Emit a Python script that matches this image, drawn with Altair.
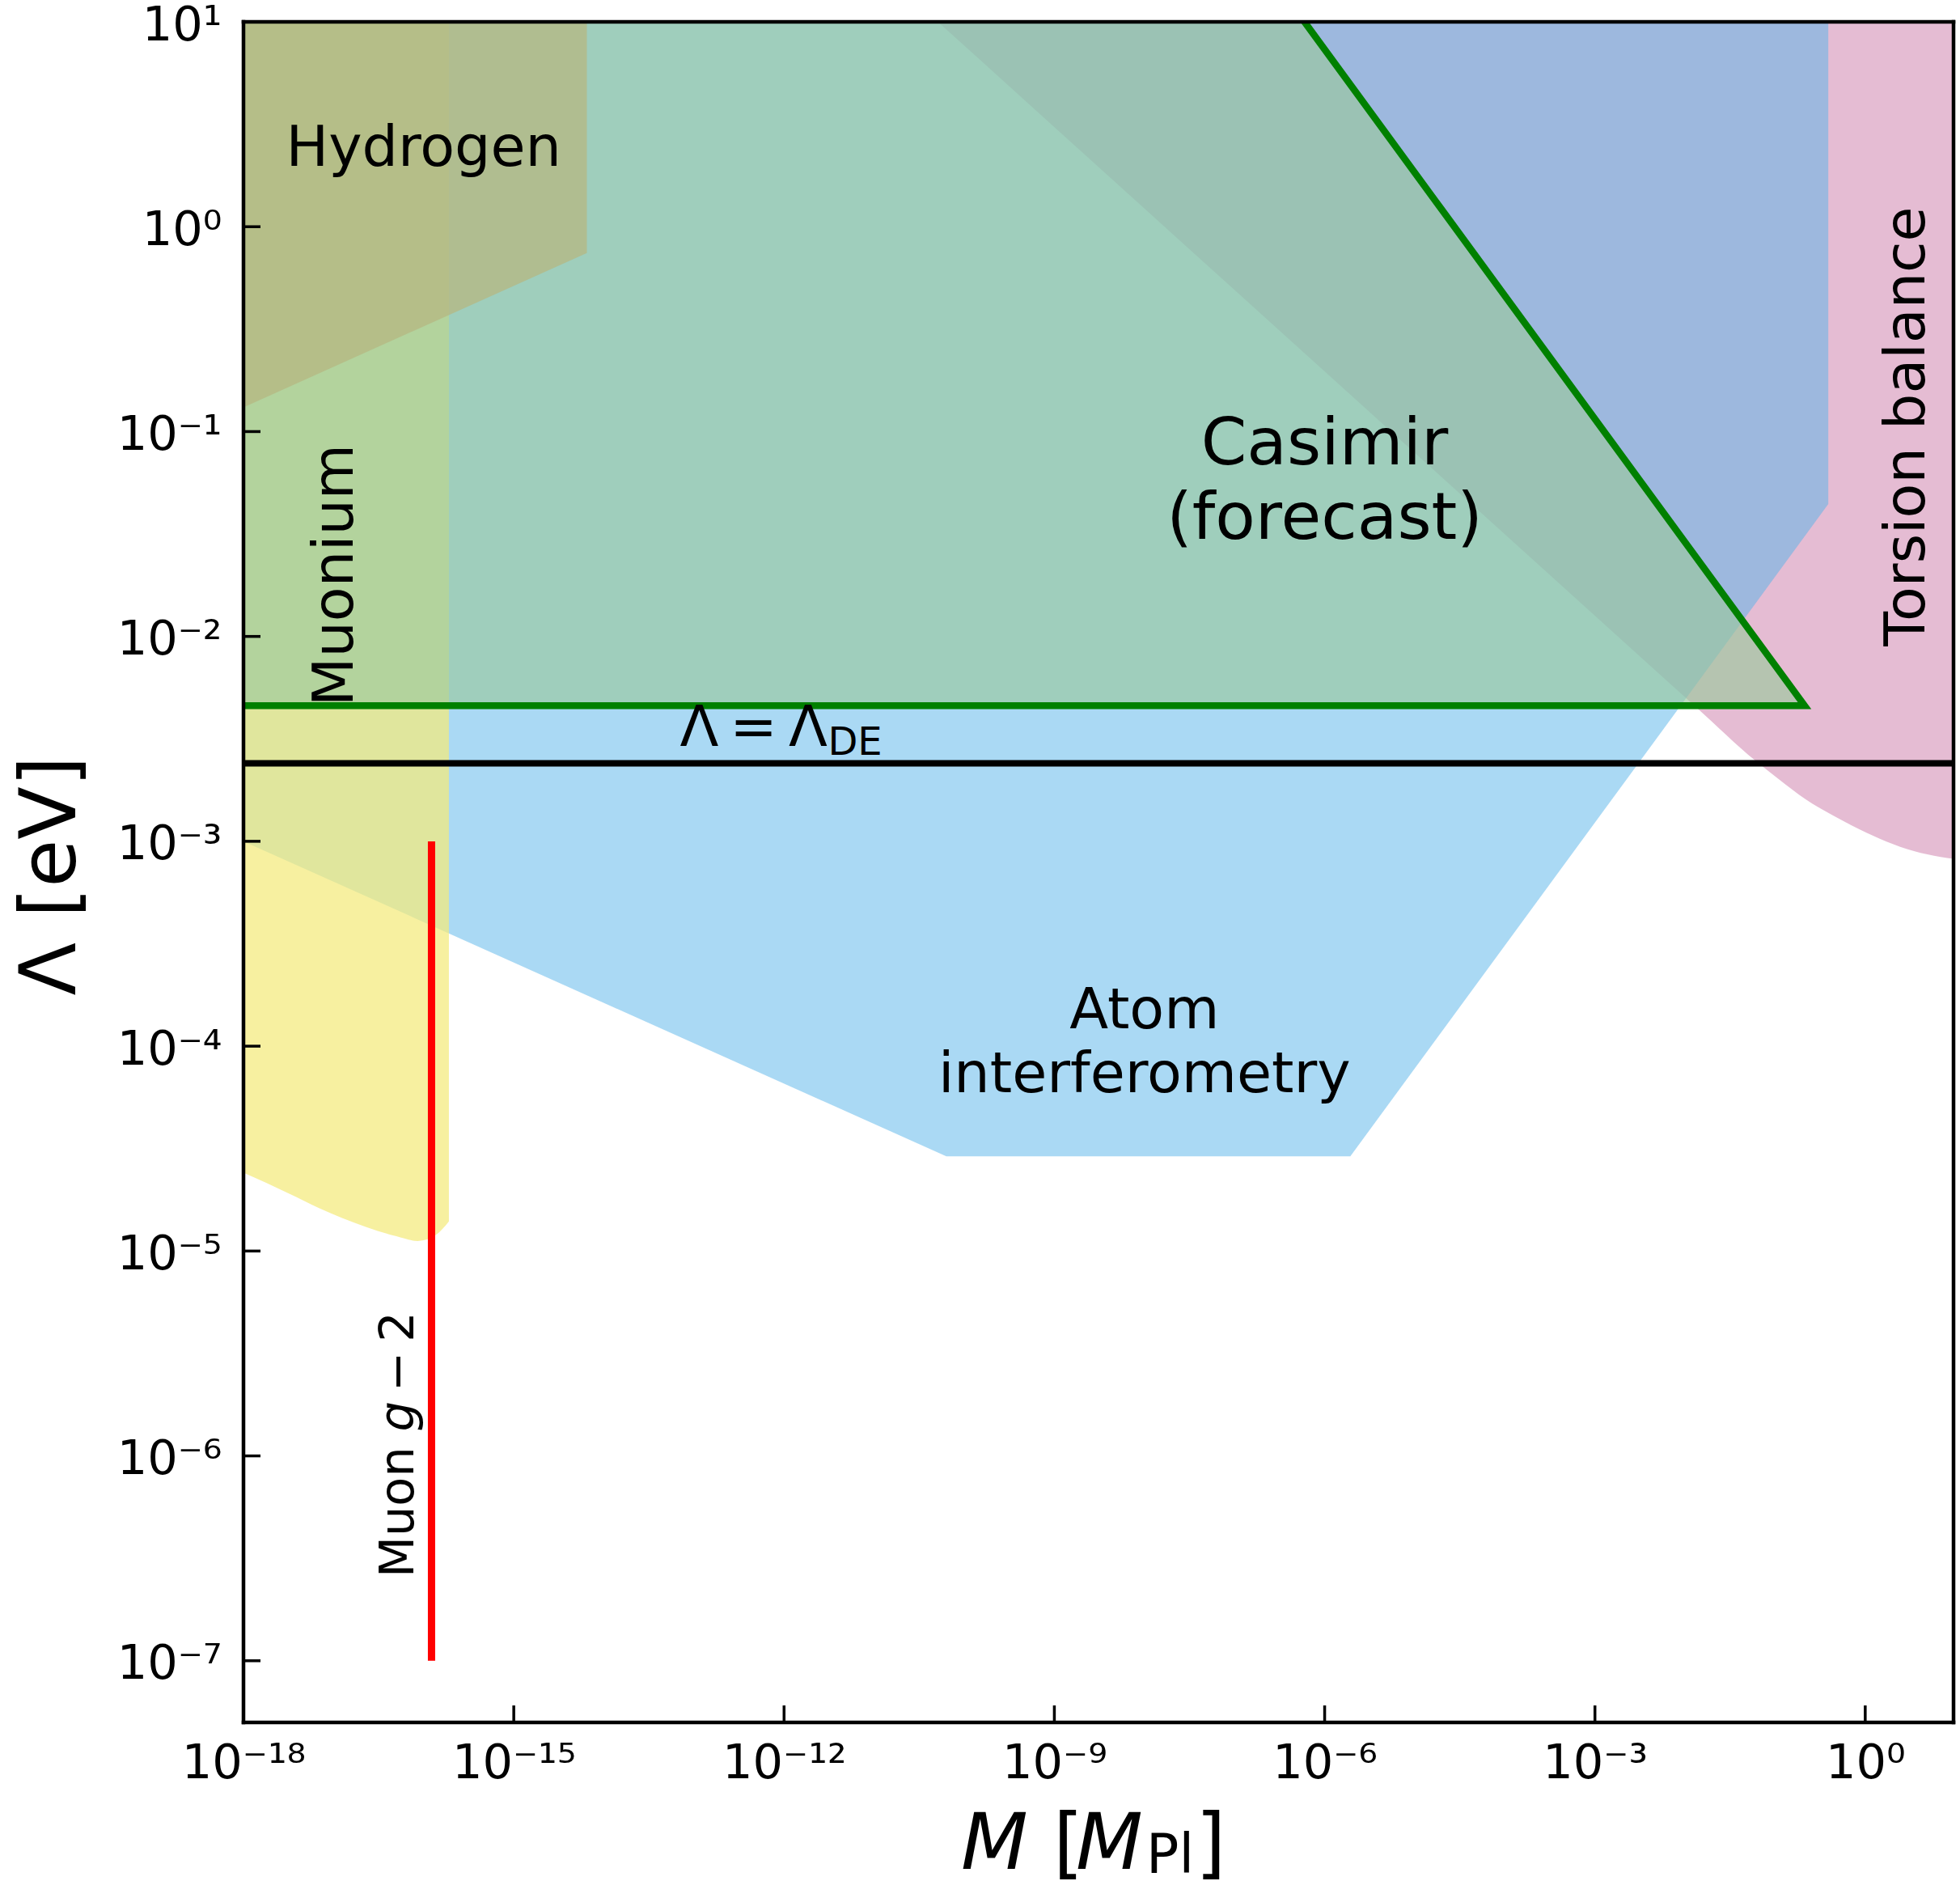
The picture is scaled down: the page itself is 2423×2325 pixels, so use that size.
import altair as alt
import pandas as pd

# ------------------------------------------------------------------
# Data (log10 of M [M_Pl] and Lambda [eV])
# ------------------------------------------------------------------
X_TICK_EXP = [-18, -15, -12, -9, -6, -3, 0]
Y_TICK_EXP = [1, 0, -1, -2, -3, -4, -5, -6, -7]

M_MIN, M_MAX = 1e-18, 10 ** 0.98
L_MIN, L_MAX = 5e-8, 10.0

# Torsion balance: lower boundary (region extends up to the top of the plot)
TORSION_LOGM = [-10.293, -5.0, -1.856, -1.227, -0.958, -0.661, -0.357, -0.061, 0.236, 0.541, 0.838, 0.98]
TORSION_LOGL = [1.0, -1.104, -2.354, -2.604, -2.697, -2.795, -2.874, -2.942, -3.001, -3.048, -3.076, -3.085]

# Atom interferometry: lower boundary (up to top)
ATOM_LOGM = [-18.0, -10.199, -5.715, -0.41]
ATOM_LOGL = [-3.0, -4.538, -4.538, -1.354]

# Muonium: lower boundary (up to top)
MUONIUM_LOGM = [-18.0, -17.506, -17.162, -16.649, -16.303, -16.066, -15.859, -15.72]
MUONIUM_LOGL = [-4.618, -4.717, -4.790, -4.881, -4.928, -4.951, -4.920, -4.856]

# Casimir forecast region
FORECAST_LOGM = [-18.0, -6.224, -0.673]
FORECAST_LOWER_LOGL = [-2.338, -2.338, -2.338]
FORECAST_UPPER_LOGL = [1.0, 1.0, -2.338]
FORECAST_EDGE_LOGM = [-18.0, -0.673, -6.224]
FORECAST_EDGE_LOGL = [-2.338, -2.338, 1.0]

# Hydrogen: lower boundary (up to top)
HYDROGEN_LOGM = [-18.0, -14.189]
HYDROGEN_LOGL = [-0.882, -0.128]

LAMBDA_DE = 2.4e-3
MUON_G2_M = 10 ** -15.913
MUON_G2_LAMBDA = [1e-7, 1e-3]

# ------------------------------------------------------------------
W, H = 2114, 2102
FONT = "DejaVu Sans"

SUP = {"-": "\u207b", "0": "\u2070", "1": "\u00b9", "2": "\u00b2", "3": "\u00b3",
       "4": "\u2074", "5": "\u2075", "6": "\u2076", "7": "\u2077", "8": "\u2078", "9": "\u2079"}


def tick_label(e):
    return "10" + "".join(SUP[c] for c in str(e))


def label_expr(exps):
    expr = "''"
    for e in sorted(exps, reverse=True):
        expr = f"datum.value < {10 ** (e + 0.5):.6e} ? '{tick_label(e)}' : ({expr})"
    return expr


X_SCALE = alt.Scale(type="log", domain=[M_MIN, M_MAX], nice=False, zero=False)
Y_SCALE = alt.Scale(type="log", domain=[L_MIN, L_MAX], nice=False, zero=False)

X_AXIS = alt.Axis(values=[10.0 ** e for e in X_TICK_EXP], labelExpr=label_expr(X_TICK_EXP),
                  title=None, grid=False, ticks=False, tickSize=0, domain=False,
                  labelFont=FONT, labelFontSize=59, labelColor="black", labelPadding=68,
                  labelBaseline="alphabetic", labelFlush=False, labelOverlap=False)
Y_AXIS = alt.Axis(values=[10.0 ** e for e in Y_TICK_EXP], labelExpr=label_expr(Y_TICK_EXP),
                  title="\u039b [eV]", titleFont=FONT, titleFontSize=96, titleFontWeight="normal",
                  titleColor="black", titleAngle=270, titleX=-209, titleY=1055,
                  titleAlign="center", titleBaseline="alphabetic",
                  grid=False, ticks=False, tickSize=0, domain=False,
                  labelFont=FONT, labelFontSize=59, labelColor="black", labelPadding=27,
                  labelAlign="right", labelBaseline="alphabetic", labelOffset=22,
                  labelFlush=False, labelOverlap=False)


def X(field="M"):
    return alt.X(field, type="quantitative", scale=X_SCALE, axis=X_AXIS)


def Y(field="L"):
    return alt.Y(field, type="quantitative", scale=Y_SCALE, axis=Y_AXIS, stack=None)


def region(logm, lower, upper, color, opacity, interp="linear"):
    df = pd.DataFrame({
        "M": [10 ** v for v in logm],
        "L": [10 ** v for v in lower],
        "L2": [10 ** v for v in upper],
    })
    return alt.Chart(df).mark_area(fill=color, fillOpacity=opacity, interpolate=interp,
                                   orient="vertical", clip=True).encode(
        x=X(), y=Y(), y2=alt.Y2("L2"))


top = [1.0]
layers = []
layers.append(region(TORSION_LOGM, TORSION_LOGL, top * len(TORSION_LOGM), "#CC79A7", 0.5, "monotone"))
layers.append(region(ATOM_LOGM, ATOM_LOGL, top * len(ATOM_LOGM), "#56B4E9", 0.5))
layers.append(region(MUONIUM_LOGM, MUONIUM_LOGL, top * len(MUONIUM_LOGM), "#F4EA7D", 0.73, "monotone"))
layers.append(region(FORECAST_LOGM, FORECAST_LOWER_LOGL, FORECAST_UPPER_LOGL, "#9AC99D", 0.64))
layers.append(region(HYDROGEN_LOGM, HYDROGEN_LOGL, top * len(HYDROGEN_LOGM), "#B5B781", 0.75))

# Casimir forecast boundary
edge = pd.DataFrame({"M": [10 ** v for v in FORECAST_EDGE_LOGM],
                     "L": [10 ** v for v in FORECAST_EDGE_LOGL],
                     "i": list(range(len(FORECAST_EDGE_LOGM)))})
layers.append(alt.Chart(edge).mark_line(color="#008000", strokeWidth=8.5, clip=True,
                                        strokeCap="square", strokeJoin="miter").encode(
    x=X(), y=Y(), order=alt.Order("i")))

# Lambda = Lambda_DE
layers.append(alt.Chart(pd.DataFrame({"L": [LAMBDA_DE]})).mark_rule(
    color="black", strokeWidth=8).encode(y=Y()))

# Muon g-2
layers.append(alt.Chart(pd.DataFrame({"M": [MUON_G2_M], "L": [MUON_G2_LAMBDA[0]],
                                      "L2": [MUON_G2_LAMBDA[1]]})).mark_rule(
    color="#FF0000", strokeWidth=9).encode(x=X(), y=Y(), y2=alt.Y2("L2")))

# inward ticks
layers.append(alt.Chart(pd.DataFrame({"M": [10.0 ** e for e in X_TICK_EXP]})).mark_rule(
    color="black", strokeWidth=3.5).encode(x=X(), y=alt.value(H - 21), y2=alt.value(H)))
layers.append(alt.Chart(pd.DataFrame({"L": [10.0 ** e for e in Y_TICK_EXP]})).mark_rule(
    color="black", strokeWidth=3.5).encode(y=Y(), x=alt.value(0), x2=alt.value(21)))

# annotations (text, log10 M, log10 Lambda) with their styles
ANNOTATIONS = [
    ("Hydrogen", -16.0, 0.297, dict(fontSize=70, align="center")),
    ("Muonium", -16.784, -1.701, dict(fontSize=70, align="center", angle=270)),
    ("Casimir", -6.0, -1.160, dict(fontSize=81, align="center")),
    ("(forecast)", -6.0, -1.524, dict(fontSize=81, align="center")),
    ("Atom", -8.0, -3.912, dict(fontSize=70, align="center")),
    ("interferometry", -8.0, -4.225, dict(fontSize=70, align="center")),
    ("\u039b\u2009=\u2009\u039b", -13.157, -2.534, dict(fontSize=70, align="left")),
    ("DE", -11.514, -2.578, dict(fontSize=48, align="left")),
    ("Torsion balance", 0.658, -0.975, dict(fontSize=70, align="center", angle=270)),
    ("Muon", -16.115, -6.594, dict(fontSize=59, align="left", angle=270)),
    ("g", -16.115, -5.881, dict(fontSize=59, align="left", angle=270, fontStyle="italic")),
    ("\u2212\u20092", -16.115, -5.686, dict(fontSize=59, align="left", angle=270)),
]
for text, lm, ll, style in ANNOTATIONS:
    df = pd.DataFrame({"M": [10 ** lm], "L": [10 ** ll], "t": [text]})
    layers.append(alt.Chart(df).mark_text(font=FONT, color="black", baseline="alphabetic",
                                          **style).encode(x=X(), y=Y(), text="t"))

# x-axis title pieces: M [M_Pl]
XTITLE = [
    ("M", 887, 2283, 96, "italic"),
    ("[", 1001, 2283, 96, "normal"),
    ("M", 1029, 2283, 96, "italic"),
    ("Pl", 1116, 2288, 67, "normal"),
    ("]", 1177, 2283, 96, "normal"),
]
for text, px, py, fs, st in XTITLE:
    layers.append(alt.Chart(pd.DataFrame({"t": [text]})).mark_text(
        font=FONT, fontSize=fs, fontStyle=st, color="black", align="left",
        baseline="alphabetic").encode(x=alt.value(px), y=alt.value(py), text="t"))

# frame
one = pd.DataFrame({"k": [0]})
fw = 4.5
layers.append(alt.Chart(one).mark_rule(color="black", strokeWidth=fw).encode(
    x=alt.value(0), y=alt.value(-fw / 2), y2=alt.value(H + fw / 2)))
layers.append(alt.Chart(one).mark_rule(color="black", strokeWidth=fw).encode(
    x=alt.value(W), y=alt.value(-fw / 2), y2=alt.value(H + fw / 2)))
layers.append(alt.Chart(one).mark_rule(color="black", strokeWidth=fw).encode(
    y=alt.value(0), x=alt.value(-fw / 2), x2=alt.value(W + fw / 2)))
layers.append(alt.Chart(one).mark_rule(color="black", strokeWidth=fw).encode(
    y=alt.value(H), x=alt.value(-fw / 2), x2=alt.value(W + fw / 2)))

chart = alt.layer(*layers).properties(
    width=W, height=H,
    autosize=alt.AutoSizeParams(type="none"),
    padding={"left": 301, "top": 27, "right": 8, "bottom": 196},
    background="white",
).configure_view(stroke=None)

chart.save("out.html", embed_options={"renderer": "svg", "actions": False})
